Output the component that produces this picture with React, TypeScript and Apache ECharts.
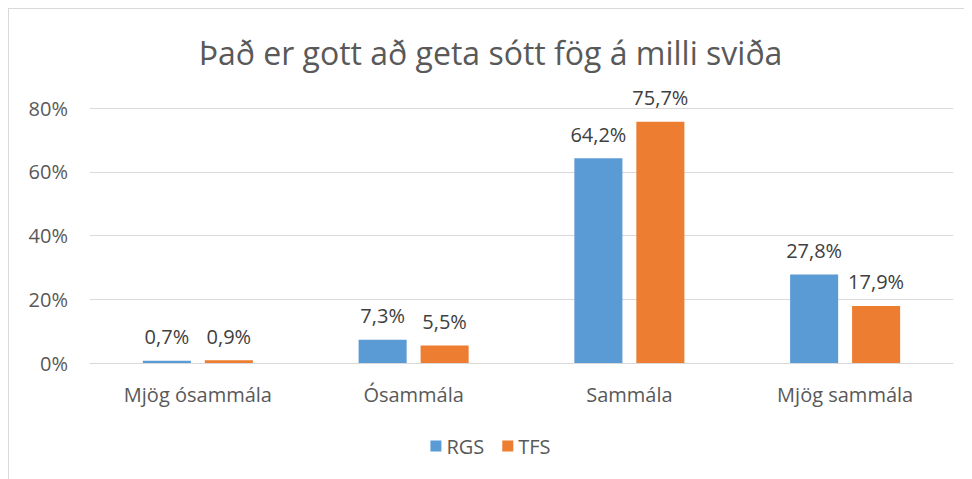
import React, { useEffect, useRef } from "react";
import * as echarts from "echarts";

const categories = ["Mjög ósammála", "Ósammála", "Sammála", "Mjög sammála"];
const rgsValues = [0.7, 7.3, 64.2, 27.8];
const tfsValues = [0.9, 5.5, 75.7, 17.9];
const yTicks = [0, 20, 40, 60, 80];
const titleText = "Það er gott að geta sótt fög á milli sviða";

const FONT = "'Open Sans', sans-serif";

export default function App() {
  const ref = useRef<HTMLDivElement>(null);
  useEffect(() => {
    if (!ref.current) return;
    const chart = echarts.init(ref.current, undefined, { renderer: "svg" });
    const fmt = (v: number) => v.toFixed(1).replace(".", ",") + "%";
    const labelStyle = {
      show: true,
      position: "top",
      distance: 14,
      fontFamily: FONT,
      fontSize: 20,
      color: "#404040",
      formatter: (p: any) => fmt(p.value),
    };
    chart.setOption({
      animation: false,
      backgroundColor: "#ffffff",
      title: {
        text: titleText,
        left: "center",
        top: 22,
        textStyle: { fontFamily: FONT, fontSize: 32, fontWeight: "normal", color: "#595959" },
      },
      legend: {
        data: ["RGS", "TFS"],
        bottom: 18,
        left: "center",
        itemWidth: 11,
        itemHeight: 11,
        itemGap: 18,
        icon: "rect",
        textStyle: { fontFamily: FONT, fontSize: 20, color: "#595959" },
      },
      grid: { left: 81, right: 19, top: 99, bottom: 116, containLabel: false },
      xAxis: {
        type: "category",
        data: categories,
        axisLine: { lineStyle: { color: "#d9d9d9", width: 1 } },
        axisTick: { show: false },
        axisLabel: { fontFamily: FONT, fontSize: 20, color: "#595959", margin: 21 },
      },
      yAxis: {
        type: "value",
        min: yTicks[0],
        max: yTicks[yTicks.length - 1],
        interval: 20,
        axisLine: { show: false },
        axisTick: { show: false },
        splitLine: { lineStyle: { color: "#d9d9d9", width: 1 } },
        axisLabel: { fontFamily: FONT, fontSize: 20, color: "#595959", margin: 22, formatter: "{value}%" },
      },
      series: [
        {
          name: "RGS",
          type: "bar",
          data: rgsValues,
          itemStyle: { color: "#5b9bd5" },
          barGap: "29%",
          barCategoryGap: "49%",
          label: labelStyle,
        },
        {
          name: "TFS",
          type: "bar",
          data: tfsValues,
          itemStyle: { color: "#ed7d31" },
          barGap: "29%",
          barCategoryGap: "49%",
          label: labelStyle,
        },
      ],
    });
    return () => chart.dispose();
  }, []);
  return (
    <div
      ref={ref}
      style={{ width: 963, height: 470, borderTop: "1px solid #d9d9d9", borderLeft: "1px solid #d9d9d9" }}
    />
  );
}
